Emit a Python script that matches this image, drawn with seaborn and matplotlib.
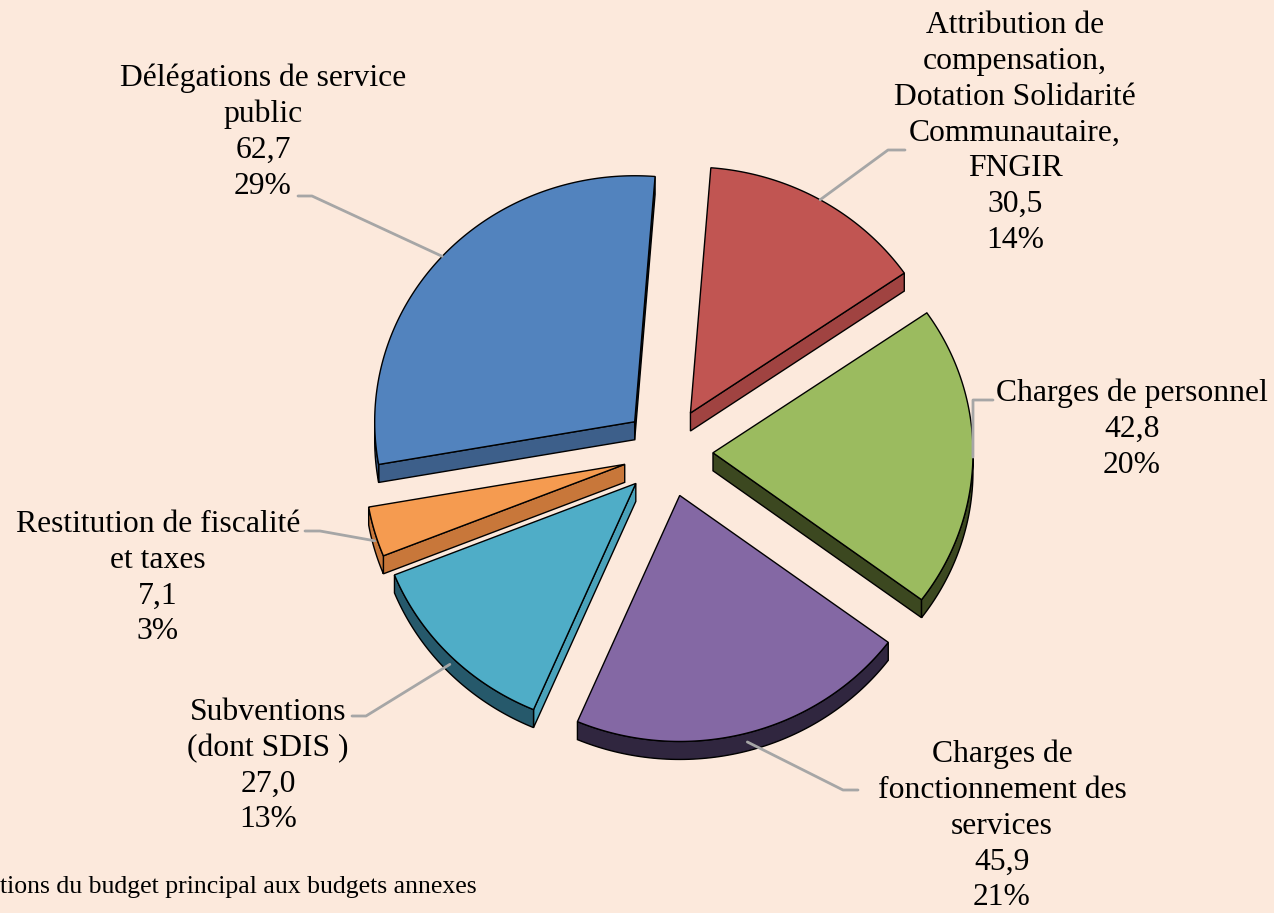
import numpy as np
import matplotlib
matplotlib.use("Agg")
import matplotlib.pyplot as plt
from matplotlib.patches import Polygon
import seaborn as sns

# donnees (sens horaire, a partir de midi)
categories = ["Attribution de\ncompensation,\nDotation Solidarité\nCommunautaire,\nFNGIR",
              "Charges de personnel",
              "Charges de\nfonctionnement des\nservices",
              "Subventions\n(dont SDIS )",
              "Restitution de fiscalité\net taxes",
              "Délégations de service\npublic"]
values = [30.5, 42.8, 45.9, 27.0, 7.1, 62.7]
percents = [14, 20, 21, 13, 3, 29]
footnote = "tions du budget principal aux budgets annexes"

top_colors = ["#C15552", "#9BBB5F", "#8468A4", "#4FADC7", "#F59B50", "#5283BE"]
side_colors = ["#A04341", "#3C4820", "#30263F", "#4AA2BA", "#C8773A", "#3D5F8A"]
rim_colors = ["#A04341", "#3C4820", "#30263F", "#26596B", "#C8773A", "#3D5F8A"]

# position des etiquettes : centre du texte, debut du trait, coude
label_pos = [(1015, 133), (1132, 429), (1002, 826), (268, 766), (158, 578), (263, 132)]
leader_start = [(905, 150), (993, 400), (858, 790), (352, 716), (305, 531), (298, 196)]
leader_elbow = [(888, 150), (973, 400), (843, 790), (366, 716), (320, 531), (312, 196)]

# geometrie du camembert 3D (pixels)
CX, CY = 668, 452
RX, RY = 260, 246
DEPTH = 18
EXPLODE = 45
START = 85.5

sns.set_theme(style="white")
plt.rcParams["font.family"] = ["Liberation Serif", "DejaVu Serif"]
bg = "#FCE9DC"

fig = plt.figure(figsize=(12.74, 9.13), dpi=100, facecolor=bg)
ax = fig.add_axes([0, 0, 1, 1])
ax.set_facecolor(bg)
ax.set_xlim(0, 1274)
ax.set_ylim(913, 0)
ax.axis("off")

total = sum(values)
spans = [v / total * 360 for v in values]
a0s = START - np.concatenate([[0], np.cumsum(spans)[:-1]])
a1s = a0s - np.array(spans)


def pt(cx, cy, t, dy=0):
    r = np.radians(t)
    return cx + RX * np.cos(r), cy - RY * np.sin(r) + dy


slices = []
for i in range(len(values)):
    a0, a1 = a0s[i], a1s[i]
    mid = np.radians((a0 + a1) / 2)
    cx = CX + EXPLODE * np.cos(mid)
    cy = CY - EXPLODE * np.sin(mid)
    depth_key = cy - 0.5 * RY * np.sin(mid)
    slices.append((depth_key, i, a0, a1, cx, cy))

for _, i, a0, a1, cx, cy in sorted(slices):
    ts = np.linspace(a0, a1, 120)
    arc = np.array([pt(cx, cy, t) for t in ts])
    top = np.vstack([[cx, cy], arc])

    # faces radiales visibles
    for ang, vis in [(a0, np.cos(np.radians(a0)) < 0), (a1, np.cos(np.radians(a1)) > 0)]:
        if vis:
            p = pt(cx, cy, ang)
            face = [(cx, cy), p, (p[0], p[1] + DEPTH), (cx, cy + DEPTH)]
            ax.add_patch(Polygon(face, closed=True, fc=side_colors[i], ec="black", lw=1, zorder=2))

    # face exterieure visible (moitie basse)
    for k in (-1, 0, 1):
        lo, hi = max(a1, -180 + 360 * k), min(a0, 360 * k)
        if hi > lo:
            tt = np.linspace(hi, lo, 80)
            upper = [pt(cx, cy, t) for t in tt]
            lower = [pt(cx, cy, t, DEPTH) for t in tt[::-1]]
            ax.add_patch(Polygon(upper + lower, closed=True, fc=rim_colors[i], ec="black", lw=1, zorder=2))

    ax.add_patch(Polygon(top, closed=True, fc=top_colors[i], ec="black", lw=1, zorder=3))

    # etiquette + trait de rappel
    mid = (a0 + a1) / 2
    anchor = pt(cx, cy, mid, DEPTH / 2 if np.sin(np.radians(mid)) < -0.2 else 0)
    xs = [leader_start[i][0], leader_elbow[i][0], anchor[0]]
    ys = [leader_start[i][1], leader_elbow[i][1], anchor[1]]
    ax.plot(xs, ys, color="#A6A6A6", lw=2, zorder=4)
    val = f"{values[i]:.1f}".replace(".", ",")
    txt = f"{categories[i]}\n{val}\n{percents[i]}%"
    ax.text(label_pos[i][0], label_pos[i][1], txt, ha="center", va="center",
            multialignment="center", fontsize=22.8, linespacing=1.31, color="black", zorder=5)

ax.text(0, 887, footnote, ha="left", va="center", fontsize=18.5, color="black")

fig.savefig("out.png", dpi=100, facecolor=bg)
